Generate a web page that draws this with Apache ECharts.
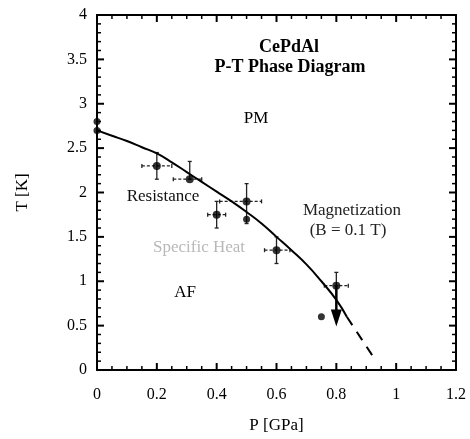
<!DOCTYPE html>
<html>
<head>
<meta charset="utf-8">
<script src="https://cdn.jsdelivr.net/npm/echarts@6/dist/echarts.min.js"></script>
<style>
  html, body { margin: 0; padding: 0; background: #fff; }
  #main { width: 470px; height: 439px; }
</style>
</head>
<body>
<div id="main"></div>
<script>
// boundary curve (solid part), P in GPa, T in K
var curveP = [0, 0.05, 0.1, 0.15, 0.2, 0.25, 0.3, 0.35, 0.4, 0.45, 0.5, 0.55, 0.6, 0.65, 0.7, 0.75, 0.8, 0.835];
var curveT = [2.7, 2.64, 2.58, 2.51, 2.44, 2.34, 2.23, 2.12, 2.01, 1.9, 1.78, 1.65, 1.5, 1.35, 1.19, 1.0, 0.79, 0.6];
// extrapolated (dashed) part
var dashP = [0.835, 0.923];
var dashT = [0.6, 0.15];

// points with error bars
var errP = [0.2, 0.31, 0.4, 0.5, 0.6, 0.8];
var errT = [2.3, 2.15, 1.75, 1.9, 1.35, 0.95];
var errPLo = [0.15, 0.255, 0.37, 0.41, 0.56, 0.76];
var errPHi = [0.25, 0.35, 0.43, 0.55, 0.645, 0.84];
var errTLo = [2.15, 2.15, 1.6, 1.65, 1.2, 0.95];
var errTHi = [2.45, 2.35, 1.9, 2.1, 1.5, 1.1];

// plain points
var dotP = [0, 0, 0.5, 0.75];
var dotT = [2.8, 2.7, 1.7, 0.6];

// upper-limit arrow at 0.8 GPa
var arrowP = [0.8];
var arrowFrom = [0.95];
var arrowTo = [0.49];

// axes
var xMax = 1.2, xStep = 0.2, xMinorSplit = 4;
var yMax = 4, yStep = 0.5, yMinorSplit = 5;

var font = "'Liberation Serif', 'DejaVu Serif', serif";

var chart = echarts.init(document.getElementById("main"));

function zip(a, b) {
  return a.map(function (v, i) { return [v, b[i]]; });
}

var errData = errP.map(function (p, i) {
  return [p, errT[i], errPLo[i], errPHi[i], errTLo[i], errTHi[i]];
});
var arrowData = arrowP.map(function (p, i) {
  return [p, arrowFrom[i], arrowTo[i]];
});

// tick marks on all four sides: [x, y, isMajor, side(0 = x axis, 1 = y axis)]
var tickData = [];
var nx = Math.round(xMax / xStep) * xMinorSplit;
for (var i = 0; i <= nx; i++) {
  tickData.push([i * xStep / xMinorSplit, 0, i % xMinorSplit === 0 ? 1 : 0, 0]);
}
var ny = Math.round(yMax / yStep) * yMinorSplit;
for (var j = 0; j <= ny; j++) {
  tickData.push([0, j * yStep / yMinorSplit, j % yMinorSplit === 0 ? 1 : 0, 1]);
}

function axisStyle(pos) {
  return {
    position: pos,
    axisLine: { show: true, onZero: false, lineStyle: { color: "#000", width: 2 } },
    axisTick: { show: false },
    splitLine: { show: false }
  };
}

var option = {
  animation: false,
  grid: { left: 97, right: 14, top: 15, bottom: 65 },
  xAxis: [
    Object.assign({
      type: "value", min: 0, max: xMax, interval: xStep,
      name: "P [GPa]", nameLocation: "middle", nameGap: 47,
      nameTextStyle: { fontFamily: font, fontSize: 17, color: "#000" },
      axisLabel: {
        fontFamily: font, fontSize: 16, color: "#000", margin: 17,
        formatter: function (v) { return String(+v.toFixed(1)); }
      }
    }, axisStyle("bottom")),
    Object.assign({
      type: "value", min: 0, max: xMax, interval: xStep,
      axisLabel: { show: false }
    }, axisStyle("top"))
  ],
  yAxis: [
    Object.assign({
      type: "value", min: 0, max: yMax, interval: yStep,
      name: "T [K]", nameLocation: "middle", nameGap: 66,
      nameTextStyle: { fontFamily: font, fontSize: 17, color: "#000" },
      axisLabel: {
        fontFamily: font, fontSize: 16, color: "#000", margin: 10,
        formatter: function (v) { return String(v); }
      }
    }, axisStyle("left")),
    Object.assign({
      type: "value", min: 0, max: yMax, interval: yStep,
      axisLabel: { show: false }
    }, axisStyle("right"))
  ],
  series: [
    {
      type: "custom",
      data: tickData,
      silent: true,
      renderItem: function (params, api) {
        var major = api.value(2) === 1;
        var len = major ? 7 : 4;
        var st = { stroke: "#000", lineWidth: major ? 2 : 1.5 };
        if (api.value(3) === 0) {
          var b = api.coord([api.value(0), 0]);
          var t = api.coord([api.value(0), yMax]);
          return {
            type: "group",
            children: [
              { type: "line", shape: { x1: b[0], y1: b[1], x2: b[0], y2: b[1] - len }, style: st },
              { type: "line", shape: { x1: t[0], y1: t[1], x2: t[0], y2: t[1] + len }, style: st }
            ]
          };
        }
        var l = api.coord([0, api.value(1)]);
        var r = api.coord([xMax, api.value(1)]);
        return {
          type: "group",
          children: [
            { type: "line", shape: { x1: l[0], y1: l[1], x2: l[0] + len, y2: l[1] }, style: st },
            { type: "line", shape: { x1: r[0], y1: r[1], x2: r[0] - len, y2: r[1] }, style: st }
          ]
        };
      },
      z: 2
    },
    {
      type: "line",
      data: zip(curveP, curveT),
      smooth: true,
      symbol: "none",
      lineStyle: { color: "#000", width: 2 }
    },
    {
      type: "line",
      data: zip(dashP, dashT),
      symbol: "none",
      lineStyle: { color: "#000", width: 2, type: [10, 8] }
    },
    {
      type: "custom",
      data: errData,
      renderItem: function (params, api) {
        var c = api.coord([api.value(0), api.value(1)]);
        var l = api.coord([api.value(2), api.value(1)]);
        var r = api.coord([api.value(3), api.value(1)]);
        var b = api.coord([api.value(0), api.value(4)]);
        var t = api.coord([api.value(0), api.value(5)]);
        var st = { stroke: "#222", lineWidth: 1.2, lineDash: [3, 2] };
        var sv = { stroke: "#222", lineWidth: 1.3 };
        return {
          type: "group",
          children: [
            { type: "line", shape: { x1: l[0], y1: c[1], x2: r[0], y2: c[1] }, style: st },
            { type: "line", shape: { x1: l[0], y1: c[1] - 2, x2: l[0], y2: c[1] + 2 }, style: sv },
            { type: "line", shape: { x1: r[0], y1: c[1] - 2, x2: r[0], y2: c[1] + 2 }, style: sv },
            { type: "line", shape: { x1: c[0], y1: b[1], x2: c[0], y2: t[1] }, style: sv },
            { type: "line", shape: { x1: c[0] - 2, y1: t[1], x2: c[0] + 2, y2: t[1] }, style: sv },
            { type: "line", shape: { x1: c[0] - 2, y1: b[1], x2: c[0] + 2, y2: b[1] }, style: sv }
          ]
        };
      },
      z: 3
    },
    {
      type: "custom",
      data: arrowData,
      renderItem: function (params, api) {
        var a = api.coord([api.value(0), api.value(1)]);
        var b = api.coord([api.value(0), api.value(2)]);
        return {
          type: "group",
          children: [
            { type: "line", shape: { x1: a[0], y1: a[1], x2: b[0], y2: b[1] - 10 },
              style: { stroke: "#000", lineWidth: 2.5 } },
            { type: "polygon", shape: { points: [[b[0] - 5.5, b[1] - 17], [b[0] + 5.5, b[1] - 17], [b[0], b[1]]] },
              style: { fill: "#000" } }
          ]
        };
      },
      z: 4
    },
    {
      type: "scatter",
      data: zip(errP, errT),
      symbol: "circle",
      symbolSize: 8,
      itemStyle: { color: "#000" },
      z: 5
    },
    {
      type: "scatter",
      data: zip(dotP, dotT),
      symbol: "circle",
      symbolSize: 7,
      itemStyle: { color: "#000" },
      z: 5
    }
  ],
  graphic: [
    { type: "text", x: 289, y: 47, style: { text: "CePdAl", font: "bold 18px " + font, fill: "#000", align: "center", verticalAlign: "middle" } },
    { type: "text", x: 290, y: 67, style: { text: "P-T Phase Diagram", font: "bold 18px " + font, fill: "#000", align: "center", verticalAlign: "middle" } },
    { type: "text", x: 256, y: 119, style: { text: "PM", font: "17px " + font, fill: "#000", align: "center", verticalAlign: "middle" } },
    { type: "text", x: 163, y: 197, style: { text: "Resistance", font: "17px " + font, fill: "#111", align: "center", verticalAlign: "middle" } },
    { type: "text", x: 352, y: 211, style: { text: "Magnetization", font: "17px " + font, fill: "#222", align: "center", verticalAlign: "middle" } },
    { type: "text", x: 348, y: 231, style: { text: "(B = 0.1 T)", font: "17px " + font, fill: "#222", align: "center", verticalAlign: "middle" } },
    { type: "text", x: 199, y: 248, style: { text: "Specific Heat", font: "17px " + font, fill: "#b8b8b8", align: "center", verticalAlign: "middle" } },
    { type: "text", x: 185, y: 293, style: { text: "AF", font: "17px " + font, fill: "#000", align: "center", verticalAlign: "middle" } }
  ]
};

chart.setOption(option);
</script>
</body>
</html>
